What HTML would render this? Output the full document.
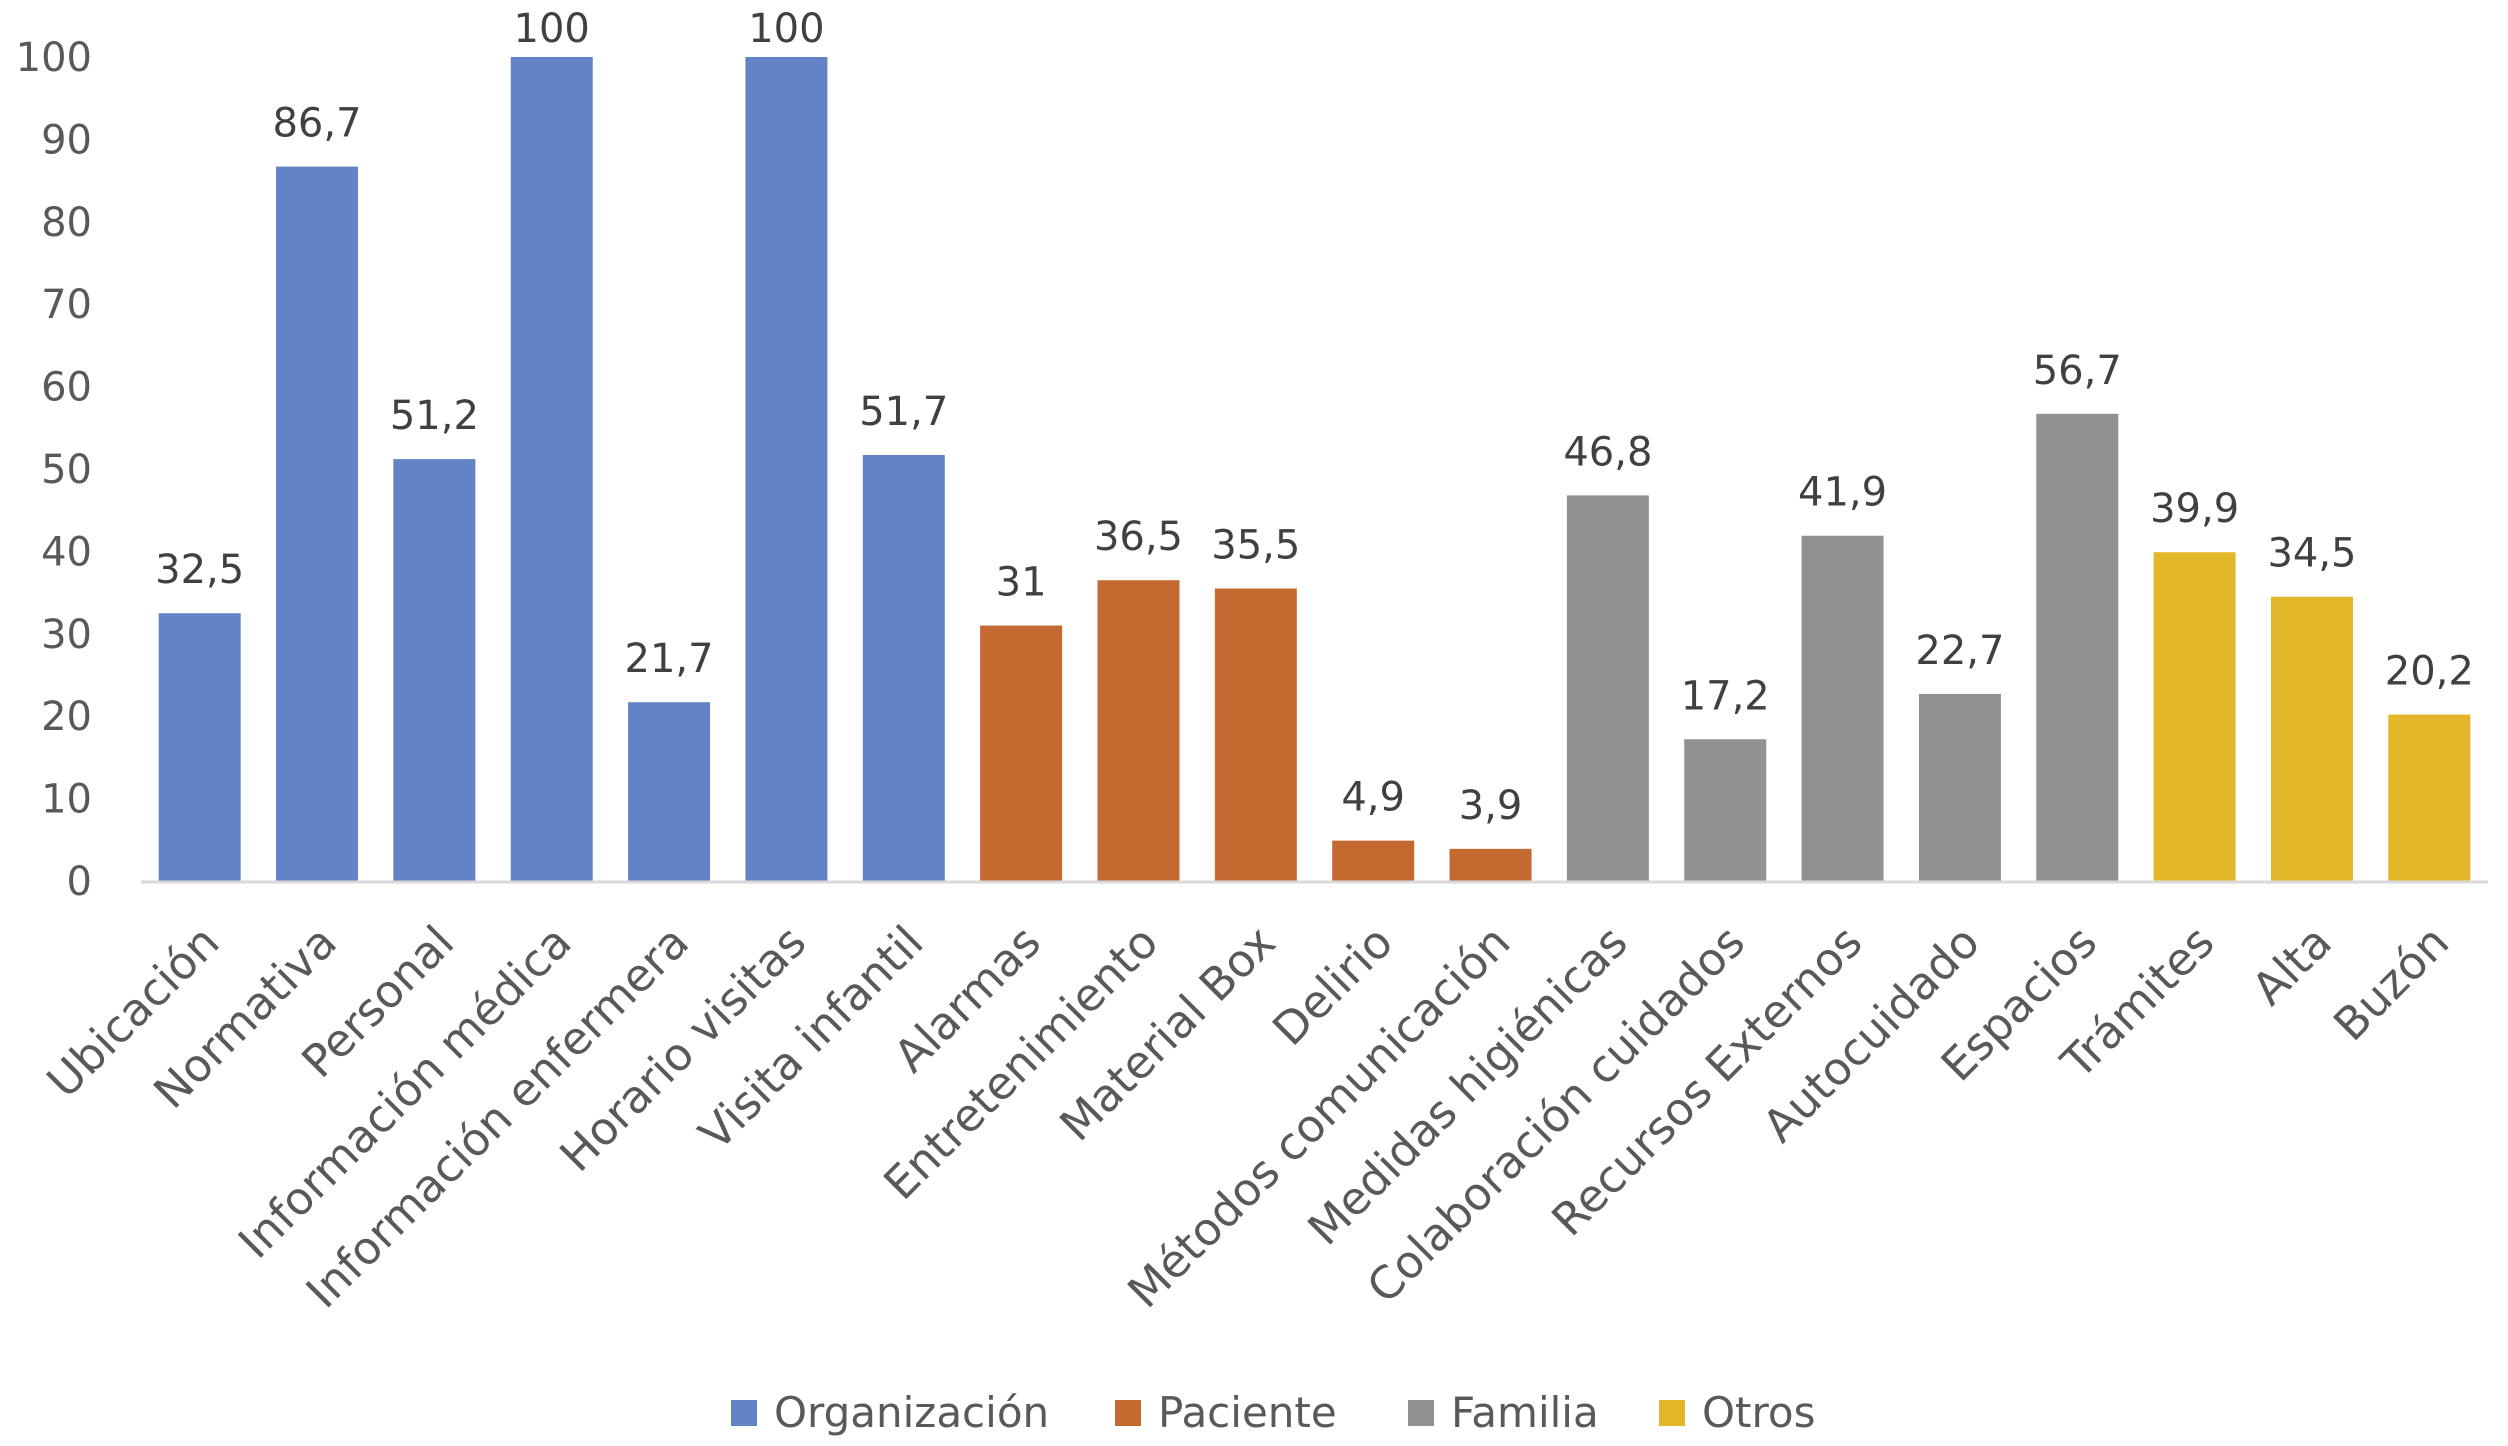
<!DOCTYPE html>
<html><head><meta charset="utf-8">
<style>
html,body{margin:0;padding:0;background:#fff;}
svg{display:block;font-family:"DejaVu Sans","Liberation Sans",sans-serif;}
</style></head>
<body>
<svg id="chart" width="2508" height="1446" viewBox="0 0 2508 1446" xmlns="http://www.w3.org/2000/svg"></svg>
<script>
const categories = ["Ubicación","Normativa","Personal","Información médica","Información enfermera","Horario visitas","Visita infantil","Alarmas","Entretenimiento","Material Box","Delirio","Métodos comunicación","Medidas higiénicas","Colaboración cuidados","Recursos Externos","Autocuidado","Espacios","Trámites","Alta","Buzón"];
const values = [32.5,86.7,51.2,100,21.7,100,51.7,31,36.5,35.5,4.9,3.9,46.8,17.2,41.9,22.7,56.7,39.9,34.5,20.2];
const valueLabels = ["32,5","86,7","51,2","100","21,7","100","51,7","31","36,5","35,5","4,9","3,9","46,8","17,2","41,9","22,7","56,7","39,9","34,5","20,2"];
const groups = [0,0,0,0,0,0,0,1,1,1,1,1,2,2,2,2,2,3,3,3];
const groupNames = ["Organización","Paciente","Familia","Otros"];
const yTicks = [0,10,20,30,40,50,60,70,80,90,100];

const colors = ["#6283c6","#c46a30","#919191","#e2b72a"];
const svg = document.getElementById('chart');
const NS = "http://www.w3.org/2000/svg";
const left = 141, right = 2488, y0 = 881, y100 = 57;
const band = (right-left)/categories.length;
const barW = 82;
function xC(i){ return left + band*(i+0.5); }
function yS(v){ return y0 - (y0-y100)*v/100; }
function mk(tag, attrs){ const e=document.createElementNS(NS,tag); for(const k in attrs) e.setAttribute(k,attrs[k]); svg.appendChild(e); return e; }

yTicks.forEach(t=>{
  const e = mk('text',{x:92,y:yS(t)+14,'text-anchor':'end','font-size':40,fill:'#595959'});
  e.textContent = t;
  
  
});

values.forEach((v,i)=>{
  const r = mk('rect',{x:xC(i)-barW/2,y:yS(v),width:barW,height:y0-yS(v),fill:colors[groups[i]]});
  
  
  const t = mk('text',{x:xC(i),y:Math.max(yS(v)-30,42),'text-anchor':'middle','font-size':40,fill:'#404040'});
  t.textContent = valueLabels[i];
  
  
  const c = mk('text',{'text-anchor':'end','font-size':45,fill:'#595959',transform:`translate(${xC(i)+22},${y0+64}) rotate(-45)`});
  c.textContent = categories[i];
  
  
});

const axis = mk('line',{x1:left,x2:right,y1:y0+1,y2:y0+1,stroke:'#d9d9d9','stroke-width':3});



const legX = [731,1115,1408,1659];
groupNames.forEach((g,i)=>{
  const s = mk('rect',{x:legX[i],y:1400,width:26,height:26,fill:colors[i]});
  
  
  const t = mk('text',{x:legX[i]+43,y:1427,'font-size':42,fill:'#595959'});
  t.textContent = g;
  
  
});
</script>
</body></html>
